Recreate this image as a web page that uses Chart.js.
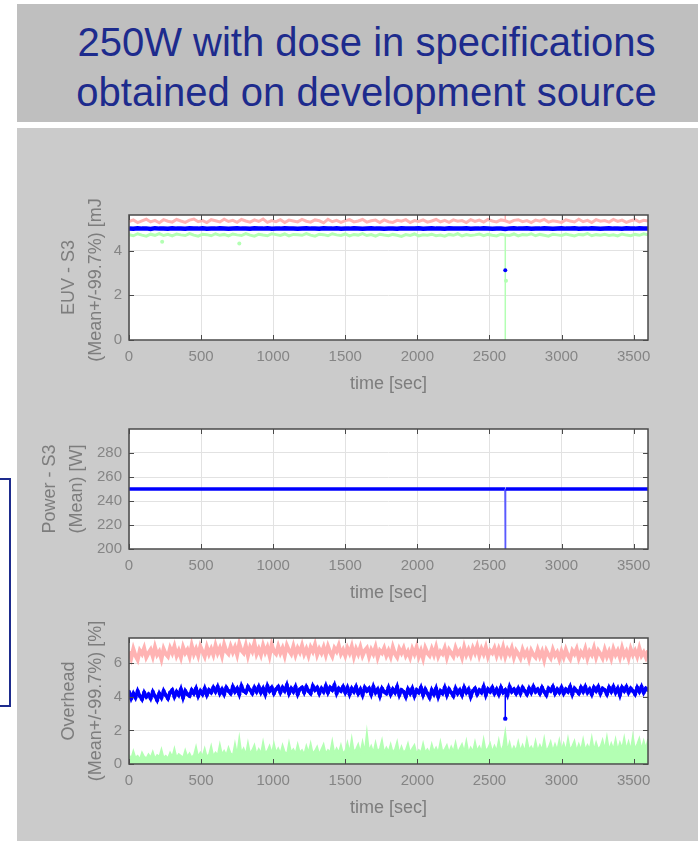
<!DOCTYPE html>
<html><head><meta charset="utf-8">
<script src="https://cdn.jsdelivr.net/npm/chart.js@4.4.1/dist/chart.umd.min.js"></script>
<style>
html,body{margin:0;padding:0;background:#fff;width:698px;height:841px;overflow:hidden;position:relative;font-family:"Liberation Sans",Arial,sans-serif;}
#header{position:absolute;left:17px;top:4px;width:681px;height:118px;background:#bfbfbf;}
#title{position:absolute;left:35px;width:663px;top:17px;text-align:center;color:#1d2b8d;font-size:40px;line-height:50px;white-space:nowrap;}
#panel{position:absolute;left:17px;top:128px;width:681px;height:713px;background:#cbcbcb;}
#navbox{position:absolute;left:-20px;top:478px;width:27px;height:225px;border:2px solid #1d2b8d;}
canvas{position:absolute;left:17px;}
</style></head>
<body>
<div id="header"></div>
<div id="title">250W with dose in specifications<br>obtained on development source</div>
<div id="panel"></div>
<div id="navbox"></div>
<canvas id="c1" width="681" height="196" style="top:199px"></canvas>
<canvas id="c2" width="681" height="191" style="top:413px"></canvas>
<canvas id="c3" width="681" height="197" style="top:622px"></canvas>
<script>
// ---------- data ----------
const EUV_STEP = 30;   // seconds between EUV samples
const OVH_STEP = 15;   // seconds between overhead samples
const timeTicks = [0, 500, 1000, 1500, 2000, 2500, 3000, 3500];

// EUV - S3 [mJ]
const euvUpper = [
5.30,5.38,5.26,5.34,5.41,5.29,5.36,5.25,5.39,5.32,
5.28,5.40,5.33,5.27,5.37,5.42,5.30,5.35,5.26,5.39,
5.34,5.29,5.41,5.31,5.36,5.27,5.40,5.33,5.28,5.38,
5.31,5.42,5.27,5.35,5.30,5.39,5.26,5.37,5.33,5.29,
5.40,5.32,5.28,5.38,5.34,5.25,5.41,5.30,5.36,5.27,
5.35,5.39,5.29,5.33,5.40,5.28,5.34,5.37,5.26,5.38,
5.30,5.27,5.36,5.32,5.39,5.26,5.35,5.31,5.38,5.28,
5.33,5.40,5.29,5.36,5.27,5.38,5.32,5.35,5.26,5.39,
5.31,5.37,5.28,5.40,5.33,5.29,5.38,5.34,5.27,5.36,
5.39,5.30,5.35,5.26,5.37,5.32,5.40,5.28,5.34,5.31,
5.27,5.38,5.33,5.29,5.41,5.30,5.36,5.26,5.39,5.32,
5.35,5.28,5.40,5.31,5.37,5.27,5.34,5.39,5.29,5.36,
5.33];
const euvMean = [
5.00,4.98,5.01,4.99,5.00,4.97,5.01,4.99,5.00,4.98,
5.01,4.99,5.00,4.98,5.01,5.00,4.99,5.01,4.98,5.00,
4.99,5.01,5.00,4.98,5.00,5.01,4.99,5.00,4.98,5.01,
5.00,4.99,5.01,4.98,5.00,4.99,5.01,5.00,4.99,4.98,
5.00,5.01,4.99,5.00,4.98,5.01,5.00,4.99,5.01,4.98,
5.00,4.99,5.01,5.00,4.98,5.00,5.01,4.99,5.00,4.98,
4.99,5.00,4.98,5.01,5.00,4.99,5.00,5.01,4.98,5.00,
5.01,4.99,5.00,4.98,5.01,5.00,4.99,5.00,5.01,4.98,
5.00,4.99,5.01,5.00,4.98,5.00,4.99,4.97,5.00,5.01,
4.99,5.00,5.01,4.98,5.00,4.99,5.01,5.00,4.98,5.00,
5.01,4.99,5.00,5.01,4.98,5.00,4.99,5.01,5.00,4.98,
5.00,5.01,4.99,5.00,4.98,5.01,5.00,4.99,5.01,5.00,
4.99];
const euvLower = [
4.72,4.67,4.76,4.70,4.65,4.74,4.69,4.77,4.68,4.73,
4.66,4.75,4.71,4.68,4.77,4.70,4.65,4.74,4.72,4.67,
4.76,4.69,4.73,4.66,4.75,4.71,4.68,4.77,4.70,4.65,
4.74,4.70,4.67,4.76,4.72,4.68,4.75,4.66,4.73,4.71,
4.69,4.77,4.70,4.65,4.74,4.72,4.67,4.76,4.71,4.68,
4.75,4.66,4.73,4.70,4.77,4.68,4.72,4.65,4.74,4.70,
4.67,4.73,4.69,4.64,4.72,4.68,4.75,4.66,4.71,4.69,
4.74,4.67,4.70,4.65,4.73,4.69,4.76,4.66,4.72,4.68,
4.71,4.75,4.67,4.73,4.69,4.66,4.74,4.70,4.68,4.75,
4.66,4.72,4.70,4.76,4.67,4.73,4.69,4.65,4.74,4.71,
4.68,4.75,4.70,4.66,4.73,4.71,4.77,4.67,4.72,4.69,
4.74,4.68,4.71,4.66,4.75,4.70,4.67,4.73,4.69,4.76,
4.71];
// isolated samples away from the band
const euvMeanOutTime = [2610];
const euvMeanOut = [3.13];
const euvLowerOutTime = [230, 765, 2615];
const euvLowerOut = [4.40, 4.32, 2.66];
// drop-out event at t = 2610 s
const euvLowerDropTime = [2610, 2610];
const euvLowerDrop = [4.72, 0.0];
const euvUpperDropTime = [2610, 2610];
const euvUpperDrop = [5.32, 5.70];
const euvTicks = [0, 2, 4];

// Power - S3 [W]
const powerTime = [0, 600, 1200, 1800, 2400, 2608, 2610, 2612, 3000, 3600];
const powerMean = [250, 250, 250, 250, 250, 250, 200, 250, 250, 250];
const powerTicks = [200, 220, 240, 260, 280];

// Overhead [%]
const ovhUpper = [
6.70,6.30,6.85,6.45,6.20,6.75,6.55,6.90,6.35,6.60,
6.80,6.40,6.95,6.50,6.70,6.25,6.85,6.55,6.40,6.90,
6.60,7.00,6.45,6.75,6.35,6.95,6.60,6.80,6.40,7.05,
6.55,6.85,6.45,7.00,6.70,6.40,6.95,6.55,6.85,6.50,
7.05,6.60,6.90,6.45,7.10,6.70,6.55,7.00,6.65,6.95,
6.50,7.15,6.75,6.60,7.05,6.45,6.95,6.70,7.20,6.55,
6.85,6.50,7.05,6.65,6.95,6.45,7.10,6.70,6.55,7.00,
6.60,6.90,6.45,7.05,6.75,6.55,7.00,6.50,6.90,6.65,
7.05,6.55,6.85,6.45,6.95,6.70,7.10,6.50,6.85,6.60,
6.95,6.50,7.00,6.65,6.40,6.90,6.70,7.05,6.55,6.80,
6.45,6.90,6.60,7.00,6.40,6.85,6.55,6.95,6.45,6.75,
6.90,6.40,6.80,6.55,6.95,6.35,6.75,6.60,6.90,6.45,
6.75,6.40,6.95,6.55,6.35,6.85,6.60,6.90,6.45,6.70,
6.35,6.85,6.55,6.95,6.40,6.75,6.30,6.90,6.60,6.45,
6.85,6.50,6.95,6.40,6.70,6.55,6.90,6.35,6.80,6.60,
6.40,6.90,6.55,6.75,6.35,6.95,6.50,6.80,6.45,6.90,
6.60,7.00,6.45,6.85,6.55,6.95,6.40,6.75,6.60,6.90,
6.45,6.85,6.50,6.95,6.40,6.80,6.55,6.90,6.35,6.75,
6.55,6.30,6.80,6.45,6.70,6.25,6.75,6.50,6.35,6.80,
6.40,6.70,6.20,6.75,6.50,6.30,6.80,6.45,6.65,6.25,
6.70,6.35,6.80,6.45,6.25,6.75,6.55,6.85,6.30,6.65,
6.45,6.85,6.30,6.70,6.50,6.90,6.35,6.75,6.55,6.30,
6.80,6.40,6.70,6.30,6.85,6.50,6.75,6.35,6.90,6.45,
6.70,6.30,6.85,6.50,6.75,6.40,6.90,6.45,6.65,6.35,
6.75];
const ovhMean = [
4.30,3.90,4.20,3.95,4.35,4.05,3.85,4.25,4.00,4.15,
3.90,4.30,4.05,3.80,4.20,3.95,4.35,4.10,3.90,4.25,
4.40,4.00,4.30,4.10,4.45,3.95,4.35,4.15,4.05,4.40,
4.20,4.50,4.05,4.35,4.15,4.50,4.10,4.40,4.25,4.55,
4.30,4.60,4.20,4.45,4.15,4.55,4.35,4.20,4.60,4.30,
4.50,4.15,4.65,4.35,4.25,4.60,4.40,4.20,4.55,4.30,
4.60,4.25,4.50,4.15,4.65,4.35,4.55,4.20,4.45,4.60,
4.25,4.55,4.35,4.70,4.20,4.50,4.30,4.60,4.15,4.45,
4.55,4.25,4.60,4.35,4.20,4.65,4.40,4.55,4.20,4.50,
4.30,4.65,4.25,4.55,4.40,4.70,4.20,4.50,4.35,4.60,
4.25,4.55,4.15,4.50,4.30,4.60,4.20,4.45,4.10,4.55,
4.35,4.50,4.15,4.60,4.25,4.45,4.05,4.50,4.30,4.20,
4.55,4.15,4.45,4.25,4.60,4.10,4.40,4.30,4.00,4.45,
4.20,4.50,4.05,4.40,4.25,4.55,4.10,4.45,4.20,3.95,
4.40,4.15,4.50,4.00,4.35,4.20,4.55,4.10,4.45,4.25,
4.05,4.50,4.20,4.40,4.10,4.55,4.25,4.45,4.00,4.35,
4.50,4.15,4.40,4.25,4.60,4.10,4.45,4.30,4.55,4.20,
4.45,4.15,4.55,4.25,4.40,4.10,4.60,4.30,4.45,4.20,
4.50,4.20,4.55,4.35,4.15,4.50,4.25,4.60,4.30,4.45,
4.20,4.55,4.30,4.10,4.50,4.35,4.60,4.20,4.45,4.25,
4.55,4.20,4.45,4.30,4.60,4.15,4.50,4.35,4.20,4.55,
4.30,4.60,4.25,4.45,4.15,4.55,4.35,4.60,4.20,4.50,
4.40,4.15,4.55,4.30,4.60,4.25,4.50,4.10,4.55,4.35,
4.60,4.25,4.50,4.35,4.15,4.55,4.30,4.60,4.25,4.50,
4.40];
const ovhLower = [
0.55,0.35,0.80,0.40,0.50,0.30,0.70,0.45,0.35,0.60,
0.40,0.75,0.35,0.55,0.45,0.90,0.40,0.50,0.35,0.70,
0.45,0.95,0.40,0.60,0.50,0.40,0.85,0.45,0.65,0.40,
0.55,1.05,0.45,0.70,0.50,0.95,0.45,0.60,1.10,0.50,
0.70,0.55,1.20,0.60,0.80,0.55,1.00,0.65,0.55,1.25,
0.60,1.60,0.70,0.95,0.60,1.30,0.65,0.85,1.15,0.60,
0.90,0.65,1.35,0.70,0.80,1.10,0.65,1.25,0.70,0.95,
0.65,1.15,0.75,0.60,1.30,0.70,0.90,0.65,1.20,0.70,
0.85,0.60,1.10,0.70,1.25,0.65,0.80,1.05,0.60,0.90,
1.20,0.65,0.85,0.70,1.40,0.65,0.95,0.70,1.15,0.65,
0.80,1.30,0.70,1.55,0.75,0.90,1.20,0.70,1.35,0.75,
1.95,0.80,1.10,0.70,1.30,0.75,0.95,1.45,0.70,1.00,
0.75,1.20,0.70,0.90,1.35,0.65,1.05,0.70,0.85,1.25,
0.70,0.95,1.15,0.65,0.85,0.70,1.25,0.70,0.90,0.65,
1.20,0.75,1.00,0.70,1.35,0.75,0.90,1.15,0.70,1.05,
0.75,1.30,0.70,0.95,1.20,0.75,1.40,0.70,1.00,0.75,
1.35,0.80,1.05,0.75,1.50,0.80,0.95,1.25,0.75,1.10,
0.80,1.45,0.75,1.10,1.95,0.80,1.30,0.75,1.05,0.80,
1.35,0.80,1.15,0.75,1.50,0.85,1.05,0.80,1.40,0.80,
1.15,0.85,1.55,0.80,1.00,1.35,0.80,1.20,0.85,1.45,
0.85,1.25,0.80,1.55,0.85,1.10,1.40,0.80,1.20,0.85,
1.50,0.85,1.15,0.90,1.60,0.85,1.30,0.90,1.05,1.45,
0.90,1.65,0.85,1.25,0.90,1.50,0.85,1.30,0.95,1.60,
0.90,1.35,0.85,1.70,0.90,1.20,1.55,0.90,1.40,0.95,
1.50];
const ovhMeanDropTime = [2610, 2610];
const ovhMeanDrop = [4.30, 2.70];
const ovhTicks = [0, 2, 4, 6];

// ---------- helpers ----------
const sampled = (vals, step) => vals.map((v, i) => ({x: i * step, y: v}));
const paired = (xs, ys) => xs.map((x, i) => ({x: x, y: ys[i]}));

Chart.defaults.font.family = '"Liberation Sans", Arial, sans-serif';
Chart.defaults.color = '#858585';

const RED = '#ffb3b3', GREEN = '#b3ffb3', BLUE = '#0000ff';

const boxPlugin = {
  id: 'matlabBox',
  beforeDraw(chart) {
    const {ctx, chartArea: a} = chart;
    ctx.save();
    ctx.fillStyle = '#ffffff';
    ctx.fillRect(a.left, a.top, a.right - a.left, a.bottom - a.top);
    ctx.restore();
  },
  afterDraw(chart) {
    const {ctx, chartArea: a, scales} = chart;
    ctx.save();
    ctx.strokeStyle = '#4a4a4a';
    ctx.lineWidth = 1.5;
    ctx.strokeRect(a.left, a.top, a.right - a.left, a.bottom - a.top);
    ctx.lineWidth = 1;
    ctx.beginPath();
    scales.x.ticks.forEach(t => {
      const px = Math.round(scales.x.getPixelForValue(t.value)) + 0.5;
      ctx.moveTo(px, a.bottom); ctx.lineTo(px, a.bottom - 5);
      ctx.moveTo(px, a.top); ctx.lineTo(px, a.top + 5);
    });
    scales.y.ticks.forEach(t => {
      const py = Math.round(scales.y.getPixelForValue(t.value)) + 0.5;
      ctx.moveTo(a.left, py); ctx.lineTo(a.left + 5, py);
      ctx.moveTo(a.right, py); ctx.lineTo(a.right - 5, py);
    });
    ctx.stroke();
    ctx.restore();
  }
};

function makeChart(id, datasets, yMin, yMax, yTicks, yTitle, yTitlePad) {
  return new Chart(document.getElementById(id), {
    type: 'line',
    data: {datasets: datasets},
    plugins: [boxPlugin],
    options: {
      responsive: false,
      animation: false,
      devicePixelRatio: 1,
      layout: {padding: {top: 10, right: 50, left: 0, bottom: 0}},
      plugins: {legend: {display: false}, tooltip: {enabled: false}},
      elements: {line: {tension: 0}, point: {radius: 0}},
      scales: {
        x: {
          type: 'linear', min: 0, max: 3600,
          afterBuildTicks: s => { s.ticks = timeTicks.map(v => ({value: v})); },
          afterFit: s => { s.height = 55; },
          grid: {color: '#e2e2e2', drawTicks: false},
          border: {display: false},
          ticks: {padding: 8, color: '#858585', font: {size: 15}, maxRotation: 0, callback: v => String(v)},
          title: {display: true, text: 'time [sec]', color: '#7d7d7d', font: {size: 18}, padding: {top: 0, bottom: 0}}
        },
        y: {
          type: 'linear', min: yMin, max: yMax,
          afterBuildTicks: s => { s.ticks = yTicks.map(v => ({value: v})); },
          afterFit: s => { s.width = 112; },
          grid: {color: '#e2e2e2', drawTicks: false},
          border: {display: false},
          ticks: {padding: 7, color: '#858585', font: {size: 15}, callback: v => String(v)},
          title: {display: true, text: yTitle, color: '#7d7d7d', font: {size: 18, lineHeight: 1.5}, padding: {top: yTitlePad, bottom: 0}}
        }
      }
    }
  });
}

const dot = (color, r) => ({showLine: false, pointRadius: r, pointBackgroundColor: color, pointBorderColor: color, pointBorderWidth: 0, borderColor: color});

makeChart('c1', [
  Object.assign({data: paired(euvMeanOutTime, euvMeanOut)}, dot(BLUE, 2)),
  {data: sampled(euvMean, EUV_STEP), borderColor: BLUE, borderWidth: 4.5},
  {data: paired(euvUpperDropTime, euvUpperDrop), borderColor: RED, borderWidth: 1.5},
  {data: sampled(euvUpper, EUV_STEP), borderColor: RED, borderWidth: 3},
  Object.assign({data: paired(euvLowerOutTime, euvLowerOut)}, dot(GREEN, 2)),
  {data: paired(euvLowerDropTime, euvLowerDrop), borderColor: GREEN, borderWidth: 1.5},
  {data: sampled(euvLower, EUV_STEP), borderColor: GREEN, borderWidth: 3}
], 0, 5.6, euvTicks, ['EUV - S3', '(Mean+/-99.7%) [mJ]'], 39);

makeChart('c2', [
  {data: paired(powerTime, powerMean), borderColor: BLUE, borderWidth: 3.5,
   segment: {borderWidth: c => c.p0.parsed.y !== c.p1.parsed.y ? 1.5 : 3.5,
             borderColor: c => c.p0.parsed.y !== c.p1.parsed.y ? '#5a5aff' : BLUE}}
], 200, 300, powerTicks, ['Power - S3', '(Mean) [W]'], 19.5);

makeChart('c3', [
  {data: paired(ovhMeanDropTime, ovhMeanDrop), borderColor: BLUE, borderWidth: 1.5, pointRadius: [0, 2.2], pointBackgroundColor: BLUE, pointBorderWidth: 0},
  {data: sampled(ovhMean, OVH_STEP), borderColor: BLUE, borderWidth: 3.5, pointRadius: 2, pointBackgroundColor: BLUE, pointBorderColor: BLUE, pointBorderWidth: 0},
  {data: sampled(ovhUpper, OVH_STEP), borderColor: RED, borderWidth: 4},
  {data: sampled(ovhLower, OVH_STEP), borderColor: GREEN, borderWidth: 1.5, fill: 'origin', backgroundColor: GREEN}
], 0, 7.5, ovhTicks, ['Overhead', '(Mean+/-99.7%) [%]'], 39);
</script>
</body></html>
